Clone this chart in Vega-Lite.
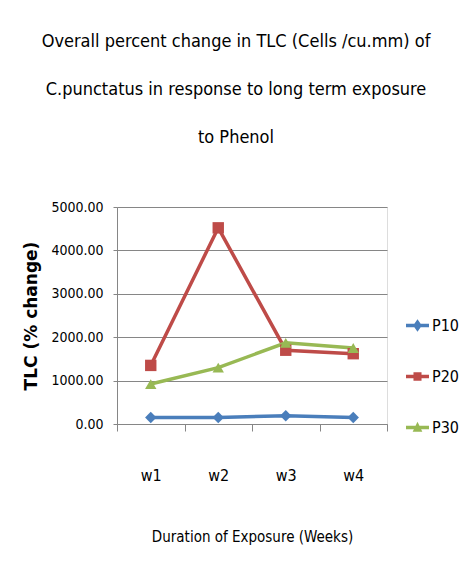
{
  "$schema": "https://vega.github.io/schema/vega-lite/v6.json",
  "autosize": {"type": "none"},
  "width": 270,
  "height": 217,
  "padding": {"left": 117, "top": 207, "right": 80, "bottom": 161},
  "background": "white",
  "title": {
    "text": ["Overall percent change in TLC (Cells /cu.mm) of", "C.punctatus in response to long term exposure", "to Phenol"],
    "font": "DejaVu Sans Condensed, Liberation Sans, sans-serif",
    "fontSize": 18,
    "fontWeight": "normal",
    "color": "black",
    "lineHeight": 48,
    "anchor": "middle",
    "dx": -16,
    "offset": 53
  },
  "data": {
    "values": [
      {"week": "w1", "series": "P10", "value": 150},
      {"week": "w2", "series": "P10", "value": 150},
      {"week": "w3", "series": "P10", "value": 190},
      {"week": "w4", "series": "P10", "value": 150},
      {"week": "w1", "series": "P20", "value": 1350},
      {"week": "w2", "series": "P20", "value": 4520},
      {"week": "w3", "series": "P20", "value": 1700},
      {"week": "w4", "series": "P20", "value": 1620},
      {"week": "w1", "series": "P30", "value": 920},
      {"week": "w2", "series": "P30", "value": 1300},
      {"week": "w3", "series": "P30", "value": 1870},
      {"week": "w4", "series": "P30", "value": 1750}
    ]
  },
  "encoding": {
    "x": {
      "field": "week", "type": "nominal",
      "scale": {"type": "band", "paddingInner": 0, "paddingOuter": 0},
      "axis": {
        "title": "Duration of Exposure (Weeks)",
        "labelAngle": 0,
        "tickBand": "extent",
        "tickSize": 7,
        "tickColor": "#868686",
        "domainColor": "#868686",
        "labelFont": "DejaVu Sans Condensed, Liberation Sans, sans-serif",
        "labelFontSize": 16,
        "labelColor": "black",
        "labelPadding": 36,
        "titleFont": "DejaVu Sans Condensed, Liberation Sans, sans-serif",
        "titleFontSize": 15,
        "titleFontWeight": "normal",
        "titleColor": "black",
        "titlePadding": 46,
        "grid": false
      }
    },
    "y": {
      "field": "value", "type": "quantitative",
      "scale": {"domain": [0, 5000], "nice": false},
      "axis": {
        "title": "TLC (% change)",
        "values": [0, 1000, 2000, 3000, 4000, 5000],
        "format": ".2f",
        "grid": true,
        "gridColor": "#868686",
        "domainColor": "#868686",
        "tickColor": "#868686",
        "tickSize": 4,
        "labelPadding": 10,
        "labelFont": "DejaVu Sans Condensed, Liberation Sans, sans-serif",
        "labelFontSize": 14,
        "labelColor": "black",
        "titleFont": "DejaVu Sans",
        "titleFontSize": 17,
        "titleFontWeight": "bold",
        "titleColor": "black",
        "titlePadding": 10
      }
    },
    "color": {
      "field": "series", "type": "nominal",
      "scale": {"domain": ["P10", "P20", "P30"], "range": ["#4A7EBB", "#BE4B48", "#98B954"]},
      "legend": {
        "title": null,
        "orient": "none",
        "legendX": 289,
        "legendY": 107,
        "symbolSize": 529,
        "symbolStrokeWidth": 0,
        "rowPadding": 31,
        "labelOffset": 3,
        "labelFont": "DejaVu Sans Condensed, Liberation Sans, sans-serif",
        "labelFontSize": 16,
        "labelColor": "black",
        "encode": {
          "symbols": {
            "update": {
              "shape": {"signal": "datum.value == 'P10' ? 'M-1,-0.16H1V0.16H-1Z M0,-0.55L0.38,0L0,0.55L-0.38,0Z' : datum.value == 'P20' ? 'M-1,-0.16H1V0.16H-1Z M-0.35,-0.38H0.35V0.38H-0.35Z' : 'M-1,-0.16H1V0.16H-1Z M0,-0.5L0.42,0.38H-0.42Z'"},
              "fill": {"signal": "scale('color', datum.value)"},
              "stroke": {"value": "transparent"},
              "opacity": {"value": 1}
            }
          }
        }
      }
    }
  },
  "layer": [
    {
      "mark": {"type": "line", "strokeWidth": 3.5}
    },
    {
      "transform": [{"filter": "datum.series == 'P10'"}],
      "mark": {"type": "point", "filled": true, "opacity": 1, "size": 130, "shape": "diamond"}
    },
    {
      "transform": [{"filter": "datum.series == 'P20'"}],
      "mark": {"type": "point", "filled": true, "opacity": 1, "size": 130, "shape": "square"}
    },
    {
      "transform": [{"filter": "datum.series == 'P30'"}],
      "mark": {"type": "point", "filled": true, "opacity": 1, "size": 130, "shape": "triangle-up"}
    }
  ]
}
